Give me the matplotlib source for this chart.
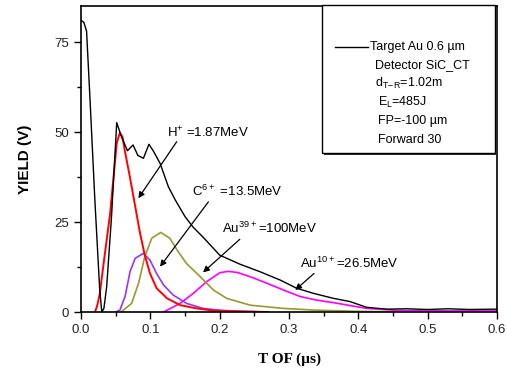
import matplotlib
matplotlib.use("Agg")
import matplotlib.pyplot as plt
from matplotlib.patches import Rectangle
from matplotlib.ticker import MultipleLocator

plt.rcParams["font.family"] = ["Liberation Sans", "DejaVu Sans"]

# total signal (black)
t_total = [0, 0.004, 0.008, 0.013, 0.020, 0.027, 0.030, 0.033, 0.037, 0.044, 0.0515,
           0.0587, 0.067, 0.075, 0.082, 0.090, 0.098, 0.105, 0.114, 0.126, 0.136, 0.150,
           0.162, 0.176, 0.200, 0.229, 0.258, 0.287, 0.311, 0.335, 0.364, 0.388, 0.412,
           0.441, 0.47, 0.50, 0.53, 0.56, 0.60]
y_total = [81, 80.5, 78, 59, 31, 6, 0, 1, 7, 26.5, 52.6,
           48.5, 44.8, 46.4, 43.5, 42.7, 46.6, 44.5, 41.3, 34.8, 31.1, 26.5,
           23.5, 20.8, 15.8, 13.3, 11.2, 8.9, 6.6, 5.2, 3.8, 2.9, 1.3,
           0.8, 0.9, 0.7, 0.9, 0.7, 0.8]

# H+ 1.87 MeV (red)
t_h = [0.020, 0.023, 0.027, 0.032, 0.042, 0.0515, 0.056, 0.060, 0.063, 0.070, 0.0765,
       0.085, 0.092, 0.0995, 0.109, 0.124, 0.143, 0.167, 0.19, 0.22, 0.27]
y_h = [0, 1.5, 5, 12.6, 27.4, 46.9, 49.8, 48.5, 45, 38, 31.1,
       22, 15.8, 10.7, 6.6, 3.8, 1.9, 1.0, 0.4, 0.2, 0]

# Au 100 MeV (purple)
t_au100 = [0.050, 0.056, 0.0635, 0.0707, 0.078, 0.0899, 0.0995, 0.109, 0.119, 0.133,
           0.152, 0.176, 0.200, 0.230, 0.270]
y_au100 = [0, 0.5, 4.3, 11.2, 14.9, 16.3, 14.4, 10.7, 7.5, 4.7,
           2.4, 1.0, 0.5, 0.2, 0]

# C 13.5 MeV (olive)
t_c = [0.058, 0.061, 0.073, 0.083, 0.092, 0.102, 0.115, 0.128, 0.140, 0.152, 0.172,
       0.191, 0.210, 0.244, 0.292, 0.34, 0.40, 0.46]
y_c = [0, 0.5, 2.4, 8.0, 15.4, 20.5, 22.1, 20.5, 16.8, 13.5, 9.8,
       6.1, 3.8, 1.9, 1.0, 0.5, 0.2, 0]

# Au 26.5 MeV (magenta)
t_au26 = [0.119, 0.143, 0.162, 0.181, 0.200, 0.212, 0.225, 0.244, 0.268, 0.292, 0.316,
          0.34, 0.364, 0.412, 0.46, 0.52, 0.60]
y_au26 = [0, 2.4, 5.2, 8.4, 10.9, 11.3, 11.0, 9.8, 8.0, 6.1, 4.3,
          3.3, 2.6, 1.0, 0.4, 0.3, 0.3]

legend_lines = ["Detector SiC_CT", r"d$_{\mathregular{T\!-\!R}}$=1.02m",
                r"E$_{\mathregular{L}}$=485J", "FP=-100 \u00b5m", "Forward 30"]

fig = plt.figure(figsize=(5.07, 3.71), dpi=100)
ax = fig.add_axes([0.1598, 0.159, 0.8205, 0.8248])

ax.plot(t_au26, y_au26, color="#ff00ff", lw=1.2)
ax.plot(t_c, y_c, color="#999933", lw=1.2)
ax.plot(t_au100, y_au100, color="#9933ff", lw=1.2)
ax.plot(t_h, y_h, color="#ff0000", lw=1.4)
ax.plot(t_total, y_total, color="#000000", lw=1.0)

ax.set_xlim(0, 0.6)
ax.set_ylim(0, 85)
ax.xaxis.set_major_locator(MultipleLocator(0.1))
ax.xaxis.set_minor_locator(MultipleLocator(0.05))
ax.yaxis.set_major_locator(MultipleLocator(25))
ax.yaxis.set_minor_locator(MultipleLocator(12.5))
ax.tick_params(which="major", direction="out", length=5, width=1, labelsize=9.5,
               labelcolor="#222222")
ax.tick_params(which="minor", direction="out", length=3, width=1)
for spine in ax.spines.values():
    spine.set_linewidth(1.2)

ax.set_ylabel("YIELD (V)", fontsize=11, fontweight="bold", labelpad=16)
ax.set_xlabel("T OF (\u00b5s)", fontsize=11, fontweight="bold",
              family=["Liberation Serif", "DejaVu Serif"], labelpad=12)

arrow = dict(arrowstyle="-|>", color="k", lw=0.9, mutation_scale=9, shrinkA=0, shrinkB=0)
ax.annotate("", xy=(0.0827, 31.6), xytext=(0.138, 47.3), arrowprops=arrow)
ax.annotate("", xy=(0.114, 12.6), xytext=(0.1837, 30.6), arrowprops=arrow)
ax.annotate("", xy=(0.176, 11.0), xytext=(0.229, 20.2), arrowprops=arrow)
ax.annotate("", xy=(0.309, 6.1), xytext=(0.336, 10.7), arrowprops=arrow)

ax.text(0.1234, 49.7, r"H$^{\mathregular{+}}$ =1.87MeV", fontsize=9.5, va="center")
ax.text(0.1597, 33.4, r"C$^{\mathregular{6+}}$ =13.5MeV", fontsize=9.5, va="center")
ax.text(0.203, 23.2, r"Au$^{\mathregular{39+}}$=100MeV", fontsize=9.5, va="center")
ax.text(0.316, 13.6, r"Au$^{\mathregular{10+}}$=26.5MeV", fontsize=9.5, va="center")

# legend box with drop shadow
ax.add_patch(Rectangle((0.583, 0.514), 0.416, 0.484, transform=ax.transAxes,
                       facecolor="#333333", edgecolor="none", clip_on=False, zorder=4))
ax.add_patch(Rectangle((0.579, 0.52), 0.416, 0.483, transform=ax.transAxes,
                       facecolor="white", edgecolor="black", lw=1.0, clip_on=False, zorder=5))
ax.plot([0.6105, 0.6898], [0.866, 0.866], color="k", lw=1.0,
        transform=ax.transAxes, zorder=6, clip_on=False)
ax.text(0.694, 0.866, "Target Au 0.6 \u00b5m", transform=ax.transAxes, fontsize=9,
        va="center", zorder=6)
for i, line in enumerate(legend_lines):
    ax.text(0.707 if i < 2 else 0.714, 0.807 - i * 0.061, line, transform=ax.transAxes,
            fontsize=9, va="center", zorder=6)

fig.savefig("out.png", dpi=100)
